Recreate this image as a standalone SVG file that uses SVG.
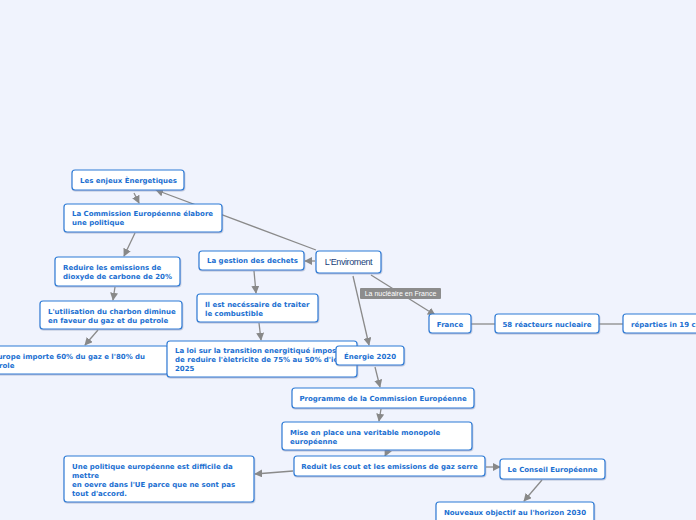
<svg xmlns="http://www.w3.org/2000/svg" width="696" height="520" viewBox="0 0 696 520">
<defs>
<marker id="ah" viewBox="0 0 10 10" refX="9" refY="5" markerWidth="8" markerHeight="8" markerUnits="userSpaceOnUse" orient="auto"><path d="M0,0 L10,5 L0,10 z" fill="#888"/></marker>
<filter id="sh" x="-10%" y="-20%" width="120%" height="150%"><feDropShadow dx="0.5" dy="1" stdDeviation="0.6" flood-color="#7a8fb0" flood-opacity="0.5"/></filter>
</defs>
<style>
.n rect{fill:#fff;stroke:#2d7bd6;stroke-width:1.2;filter:url(#sh)}
.n text{font-family:"DejaVu Sans",Verdana,sans-serif;font-weight:bold;font-size:7px;fill:#1b6fd1}
.c line{stroke:#8a8a8a;stroke-width:1.3}
.c .a{marker-end:url(#ah)}
</style>
<rect width="696" height="520" fill="#f0f3fd"/>
<g class="c">
<line class="a" x1="316" y1="250" x2="156" y2="190"/>
<line class="a" x1="134" y1="193" x2="139" y2="203"/>
<line class="a" x1="135" y1="233" x2="124" y2="256"/>
<line class="a" x1="115" y1="287" x2="113" y2="300"/>
<line class="a" x1="98" y1="330" x2="85" y2="345"/>
<line class="a" x1="315" y1="261" x2="305" y2="261"/>
<line class="a" x1="254" y1="271" x2="256" y2="293"/>
<line class="a" x1="259" y1="323" x2="261" y2="340"/>
<line class="a" x1="353" y1="276" x2="369" y2="345"/>
<line class="a" x1="371" y1="275" x2="435" y2="315"/>
<line x1="471" y1="324" x2="495" y2="324"/>
<line x1="599" y1="324" x2="623" y2="324"/>
<line class="a" x1="375" y1="367" x2="380" y2="387"/>
<line class="a" x1="381" y1="409" x2="379" y2="421"/>
<line class="a" x1="388" y1="450" x2="385" y2="456"/>
<line class="a" x1="293" y1="471" x2="255" y2="474"/>
<line class="a" x1="486" y1="467" x2="500" y2="467"/>
<line class="a" x1="542" y1="480" x2="524" y2="501"/>
</g>
<g id="label-nucleaire">
<rect x="360" y="288" width="81" height="11" rx="1" fill="#8c8c8c"/>
<text x="400.5" y="296.3" text-anchor="middle" font-family="'Liberation Sans',Arial,sans-serif" font-size="7" fill="#fff">La nucléaire en France</text>
</g>
<g id="enjeux" class="n"><rect x="72" y="170" width="112" height="20" rx="3"/><text x="80" y="182.5">Les enjeux Ènergetiques</text></g>
<g id="commission" class="n"><rect x="64" y="204" width="158" height="28" rx="3"/><text x="72" y="216">La Commission Européenne élabore</text><text x="72" y="225">une politique</text></g>
<g id="reduire" class="n"><rect x="55" y="257" width="125" height="29" rx="3"/><text x="63" y="269.5">Reduire les emissions de</text><text x="63" y="278.5">dioxyde de carbone de 20%</text></g>
<g id="charbon" class="n"><rect x="40" y="301" width="142" height="28" rx="3"/><text x="48" y="313.5">L'utilisation du charbon diminue</text><text x="48" y="322.5">en faveur du gaz et du petrole</text></g>
<g id="europe" class="n"><rect x="-22" y="346" width="191" height="28" rx="3"/><text x="-14" y="358.5">L'Europe importe 60% du gaz e l'80% du</text><text x="-14" y="367.5">petrole</text></g>
<g id="dechets" class="n"><rect x="199" y="251" width="105" height="19" rx="3"/><text x="207" y="263">La gestion des dechets</text></g>
<g id="traiter" class="n"><rect x="197" y="294" width="121" height="28" rx="3"/><text x="205" y="306.5">Il est necéssaire de traiter</text><text x="205" y="315.5">le combustible</text></g>
<g id="loi" class="n"><rect x="167" y="341" width="190" height="36" rx="3"/><text x="175" y="353">La loi sur la transition energitiqué impose</text><text x="175" y="362">de reduire l'èletricite de 75% au 50% d'ici</text><text x="175" y="371">2025</text></g>
<g id="enviroment" class="n"><rect x="316" y="251" width="65" height="22" rx="3"/><text x="348.5" y="265" text-anchor="middle" style="font-family:'Liberation Sans',Arial,sans-serif;font-weight:normal;font-size:9px;fill:#1a3f7a;letter-spacing:-0.4px">L'Enviroment</text></g>
<g id="france" class="n"><rect x="429" y="314" width="42" height="19" rx="3"/><text x="450" y="326.5" text-anchor="middle">France</text></g>
<g id="reacteurs" class="n"><rect x="495" y="314" width="104" height="19" rx="3"/><text x="547" y="326.5" text-anchor="middle">58 réacteurs nucleaire</text></g>
<g id="reparties" class="n"><rect x="623" y="314" width="110" height="19" rx="3"/><text x="631" y="326.5">réparties in 19 centrales</text></g>
<g id="energie" class="n"><rect x="336" y="346" width="68" height="19" rx="3"/><text x="370" y="358.5" text-anchor="middle">Énergie 2020</text></g>
<g id="programme" class="n"><rect x="292" y="388" width="182" height="20" rx="3"/><text x="383" y="400.5" text-anchor="middle">Programme de la Commission Européenne</text></g>
<g id="monopole" class="n"><rect x="282" y="422" width="190" height="28" rx="3"/><text x="290" y="434.5">Mise en place una veritable monopole</text><text x="290" y="443.5">européenne</text></g>
<g id="reduit" class="n"><rect x="294" y="456" width="191" height="20" rx="3"/><text x="389.5" y="468.5" text-anchor="middle">Reduit les cout et les emissions de gaz serre</text></g>
<g id="politique" class="n"><rect x="64" y="456" width="190" height="46" rx="3"/><text x="72" y="468.5">Une politique européenne est difficile da</text><text x="72" y="477.5">mettre</text><text x="72" y="486.5">en oevre dans l'UE parce que ne sont pas</text><text x="72" y="495.5">tout d'accord.</text></g>
<g id="conseil" class="n"><rect x="500" y="459" width="105" height="20" rx="3"/><text x="552.5" y="471.5" text-anchor="middle">Le Conseil Européenne</text></g>
<g id="nouveaux" class="n"><rect x="436" y="502" width="158" height="24" rx="3"/><text x="515" y="514.5" text-anchor="middle">Nouveaux objectif au l'horizon 2030</text></g>
</svg>
